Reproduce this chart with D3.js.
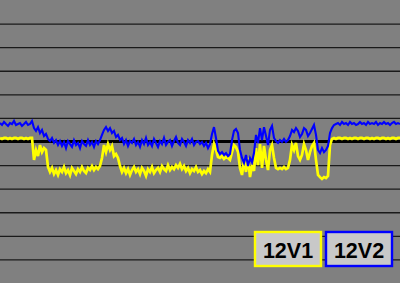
<!DOCTYPE html>
<html>
<head>
<meta charset="utf-8">
<script src="https://cdn.jsdelivr.net/npm/d3@7"></script>
<style>
html,body{margin:0;padding:0;background:#808080;}
svg{display:block;}
</style>
</head>
<body>
<svg id="chart" width="400" height="283"></svg>
<script>
// Rail voltages (V), one sample per step
const v12v1 = [
12.015,12.011,12.015,12.015,12.011,12.015,12.011,12.015,12.015,12.011,12.015,12.015,12.011,12.015,12.011,12.015,12.015,
11.922,11.964,11.938,11.985,11.955,11.972,11.964,11.892,
11.871,11.888,11.862,11.879,11.858,11.883,11.871,11.892,11.866,11.879,11.858,11.888,11.875,11.862,11.883,11.871,11.892,11.875,11.866,11.888,11.879,11.896,11.879,11.892,11.883,11.896,
11.930,11.985,11.955,11.989,11.964,11.981,11.938,11.947,11.930,11.896,
11.871,11.888,11.866,11.883,11.858,11.879,11.892,11.871,11.883,11.862,11.888,11.875,11.854,11.883,11.871,11.892,11.866,11.879,11.888,11.871,11.896,11.883,11.875,11.900,11.879,11.892,11.883,11.900,11.888,11.905,11.883,11.896,11.875,11.888,11.866,11.883,11.875,11.892,11.871,11.879,11.862,11.875,11.866,11.883,11.871,
11.943,11.989,11.964,11.934,11.930,11.938,11.926,11.934,11.930,11.922,11.955,11.985,11.977,11.955,11.888,11.858,11.922,11.871,11.930,11.849,11.900,11.875,11.972,11.900,11.989,11.888,11.981,11.922,11.879,11.964,11.985,11.930,11.888,11.883,11.888,11.883,11.892,11.883,11.888,11.922,11.985,11.964,11.994,11.938,11.922,11.943,11.989,11.964,11.922,11.955,11.981,11.994,11.922,11.858,11.849,11.841,11.849,11.845,11.854,11.985,12.011,12.015,
12.011,12.015,12.015,12.011,12.015,12.015,12.011,12.015,12.011,12.015,12.015,12.011,12.015,12.015,12.011,12.015,12.015,12.011,12.015,12.011,12.015,12.015,12.011,12.015,12.015,12.011,12.015,12.011,12.015,12.015,12.011,12.015,12.015
];
const v12v2 = [
12.078,12.070,12.083,12.074,12.066,12.078,12.074,12.087,12.070,12.074,12.078,12.066,12.074,12.083,12.070,12.074,
12.087,12.057,12.045,12.061,12.036,12.049,12.023,12.032,12.011,12.002,12.015,11.994,12.006,
11.985,12.002,11.981,11.998,11.972,12.002,11.989,11.977,12.006,11.985,11.994,11.972,12.002,11.989,11.981,12.006,11.985,11.998,11.977,12.002,11.989,12.006,
12.028,12.049,12.061,12.045,12.057,12.036,12.045,12.019,12.028,12.006,12.015,
11.989,12.006,11.981,12.002,11.994,12.011,11.985,11.998,11.977,12.006,11.989,12.015,11.985,11.998,11.981,12.011,11.994,11.977,12.002,11.989,12.015,11.985,11.998,12.006,11.981,12.002,12.019,11.994,11.985,12.011,11.998,11.981,12.006,11.994,12.011,11.985,11.998,12.002,11.989,11.998,11.981,11.994,11.972,11.989,
12.032,12.061,12.015,11.960,11.947,11.955,11.943,11.951,11.938,11.947,12.006,12.045,12.053,12.036,11.964,11.930,11.909,11.943,11.896,11.930,11.913,11.951,12.028,11.994,12.057,12.006,12.061,12.023,11.985,12.049,12.066,12.015,12.002,11.994,12.006,11.998,12.011,11.998,12.006,12.023,12.049,12.040,12.057,12.045,12.019,12.032,12.057,12.049,12.023,12.036,12.053,12.070,12.028,11.964,11.951,11.972,11.955,11.964,11.981,12.036,12.057,12.070,12.074,
12.078,12.070,12.083,12.074,12.078,12.070,12.083,12.074,12.078,12.070,12.074,12.083,12.074,12.078,12.070,12.083,12.074,12.078,12.074,12.083,12.070,12.078,12.074,12.083,12.074,12.078,12.070,12.078,12.083,12.074,12.078,12.074
];
const gridTicks = [11.5,11.6,11.7,11.8,11.9,12.0,12.1,12.2,12.3,12.4,12.5];
const nominal = 12.0;
const vRange = [11.4, 12.6];
const legendLabels = ["12V1", "12V2"];
const seriesColors = ["#ffff00", "#0000ff"];

const W = 400, H = 283;
const svg = d3.select("#chart");
const x = d3.scaleLinear().domain([0, v12v1.length - 1]).range([0, W]);
const y = d3.scaleLinear().domain(vRange).range([H, 0]);

svg.append("rect").attr("width", W).attr("height", H).attr("fill", "#808080");

const yAxis = d3.axisLeft(y).tickValues(gridTicks).tickSize(-W).tickFormat("");
const g = svg.append("g").call(yAxis);
g.select(".domain").remove();
g.selectAll(".tick line").attr("stroke", "#1a1a1a").attr("stroke-width", 1.4);

svg.append("line")
  .attr("x1", 0).attr("x2", W)
  .attr("y1", y(nominal)).attr("y2", y(nominal))
  .attr("stroke", "#000").attr("stroke-width", 3);

const line = d3.line().x((d, i) => x(i)).y(d => y(d));
[v12v1, v12v2].forEach((s, k) => {
  svg.append("path").datum(s)
    .attr("fill", "none")
    .attr("stroke", seriesColors[k])
    .attr("stroke-width", k === 0 ? 2.7 : 2.1)
    .attr("stroke-linejoin", "miter")
    .attr("d", line);
});

const lg = svg.append("g");
const boxX = [255, 326];
legendLabels.forEach((lab, k) => {
  lg.append("rect")
    .attr("x", boxX[k]).attr("y", 232).attr("width", 66).attr("height", 34)
    .attr("fill", "#c8c8c8").attr("stroke", seriesColors[k]).attr("stroke-width", 2.4);
  lg.append("text")
    .attr("x", boxX[k] + 33).attr("y", 257.5)
    .attr("text-anchor", "middle")
    .attr("font-family", "'Liberation Sans', Arial, sans-serif")
    .attr("font-weight", "bold").attr("font-size", 21.5)
    .attr("fill", "#000")
    .text(lab);
});
</script>
</body>
</html>
